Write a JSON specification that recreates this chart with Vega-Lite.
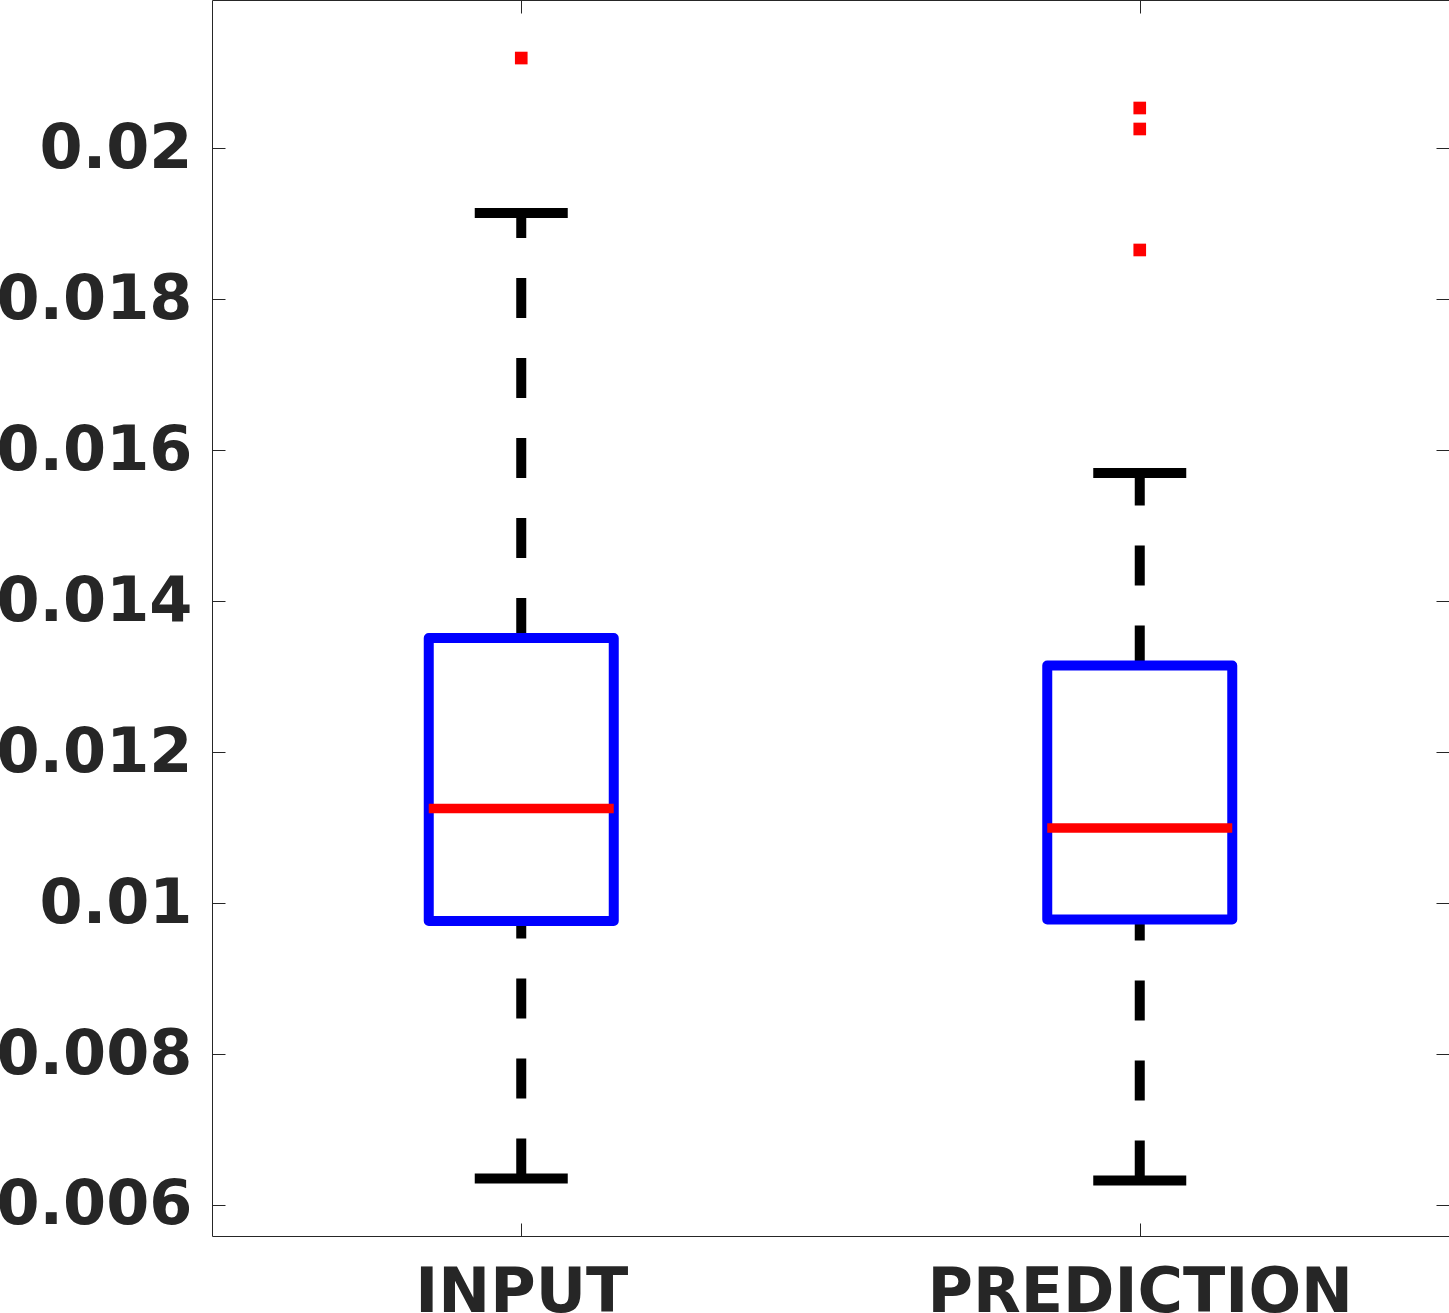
{
  "$schema": "https://vega.github.io/schema/vega-lite/v6.json",
  "width": 1237,
  "height": 1236,
  "autosize": {"type": "none"},
  "padding": {"left": 212, "top": 0, "right": 0, "bottom": 77},
  "background": "white",
  "config": {
    "view": {"stroke": "#262626", "strokeWidth": 1},
    "font": "DejaVu Sans",
    "axis": {
      "domain": false,
      "grid": false,
      "title": null,
      "labelFont": "DejaVu Sans",
      "labelFontWeight": "bold",
      "labelFontSize": 62,
      "labelColor": "#262626",
      "labelLimit": 0,
      "tickColor": "#262626",
      "tickWidth": 1,
      "tickSize": -13,
      "labelFlush": false,
      "labelOverlap": false
    }
  },
  "datasets": {
    "stats": [
      {"group": "INPUT", "lw": 0.006351, "q1": 0.009762, "med": 0.011253, "q3": 0.013512, "uw": 0.019143},
      {"group": "PREDICTION", "lw": 0.006324, "q1": 0.009782, "med": 0.010995, "q3": 0.013148, "uw": 0.015698}
    ],
    "outliers": [
      {"group": "INPUT", "value": 0.021196},
      {"group": "PREDICTION", "value": 0.020534},
      {"group": "PREDICTION", "value": 0.020256},
      {"group": "PREDICTION", "value": 0.018653}
    ]
  },
  "layer": [
    {
      "data": {"name": "stats"},
      "mark": {"type": "rule", "color": "black", "strokeWidth": 10, "strokeDash": [40, 40], "strokeCap": "butt"},
      "encoding": {
        "x": {"field": "group", "type": "nominal", "scale": {"type": "point", "padding": 0.5, "domain": ["INPUT", "PREDICTION"]},
              "axis": {"orient": "bottom", "labelAngle": 0, "labelPadding": 39}},
        "y": {"field": "lw", "type": "quantitative", "scale": {"domain": [0.005589, 0.021965], "nice": false, "zero": false},
              "axis": {"orient": "left", "values": [0.006, 0.008, 0.01, 0.012, 0.014, 0.016, 0.018, 0.02], "format": "~g", "labelPadding": 33}},
        "y2": {"field": "q1"}
      }
    },
    {
      "data": {"name": "stats"},
      "mark": {"type": "rule", "color": "black", "strokeWidth": 10, "strokeDash": [40, 40], "strokeCap": "butt"},
      "encoding": {
        "x": {"field": "group", "type": "nominal", "scale": {"type": "point", "padding": 0.5, "domain": ["INPUT", "PREDICTION"]},
              "axis": {"orient": "top", "labels": false}},
        "y": {"field": "q3", "type": "quantitative", "scale": {"domain": [0.005589, 0.021965], "nice": false, "zero": false},
              "axis": {"orient": "right", "labels": false, "values": [0.006, 0.008, 0.01, 0.012, 0.014, 0.016, 0.018, 0.02]}},
        "y2": {"field": "uw"}
      }
    },
    {
      "data": {"name": "stats"},
      "mark": {"type": "tick", "color": "black", "size": 93, "thickness": 10, "opacity": 1},
      "encoding": {
        "x": {"field": "group", "type": "nominal", "scale": {"type": "point", "padding": 0.5, "domain": ["INPUT", "PREDICTION"]}, "axis": null},
        "y": {"field": "lw", "type": "quantitative", "scale": {"domain": [0.005589, 0.021965], "nice": false, "zero": false}, "axis": null}
      }
    },
    {
      "data": {"name": "stats"},
      "mark": {"type": "tick", "color": "black", "size": 93, "thickness": 10, "opacity": 1},
      "encoding": {
        "x": {"field": "group", "type": "nominal", "scale": {"type": "point", "padding": 0.5, "domain": ["INPUT", "PREDICTION"]}, "axis": null},
        "y": {"field": "uw", "type": "quantitative", "scale": {"domain": [0.005589, 0.021965], "nice": false, "zero": false}, "axis": null}
      }
    },
    {
      "data": {"name": "stats"},
      "mark": {"type": "bar", "size": 185, "fill": "transparent", "stroke": "#0000FF", "strokeWidth": 10, "strokeJoin": "round"},
      "encoding": {
        "x": {"field": "group", "type": "nominal", "scale": {"type": "point", "padding": 0.5, "domain": ["INPUT", "PREDICTION"]}, "axis": null},
        "y": {"field": "q1", "type": "quantitative", "scale": {"domain": [0.005589, 0.021965], "nice": false, "zero": false}, "axis": null},
        "y2": {"field": "q3"}
      }
    },
    {
      "data": {"name": "stats"},
      "mark": {"type": "tick", "color": "#FF0000", "size": 185, "thickness": 9.5, "opacity": 1},
      "encoding": {
        "x": {"field": "group", "type": "nominal", "scale": {"type": "point", "padding": 0.5, "domain": ["INPUT", "PREDICTION"]}, "axis": null},
        "y": {"field": "med", "type": "quantitative", "scale": {"domain": [0.005589, 0.021965], "nice": false, "zero": false}, "axis": null}
      }
    },
    {
      "data": {"name": "outliers"},
      "mark": {"type": "square", "color": "#FF0000", "size": 160, "filled": true, "opacity": 1},
      "encoding": {
        "x": {"field": "group", "type": "nominal", "scale": {"type": "point", "padding": 0.5, "domain": ["INPUT", "PREDICTION"]}, "axis": null},
        "y": {"field": "value", "type": "quantitative", "scale": {"domain": [0.005589, 0.021965], "nice": false, "zero": false}, "axis": null}
      }
    }
  ],
  "resolve": {"axis": {"x": "independent", "y": "independent"}}
}
